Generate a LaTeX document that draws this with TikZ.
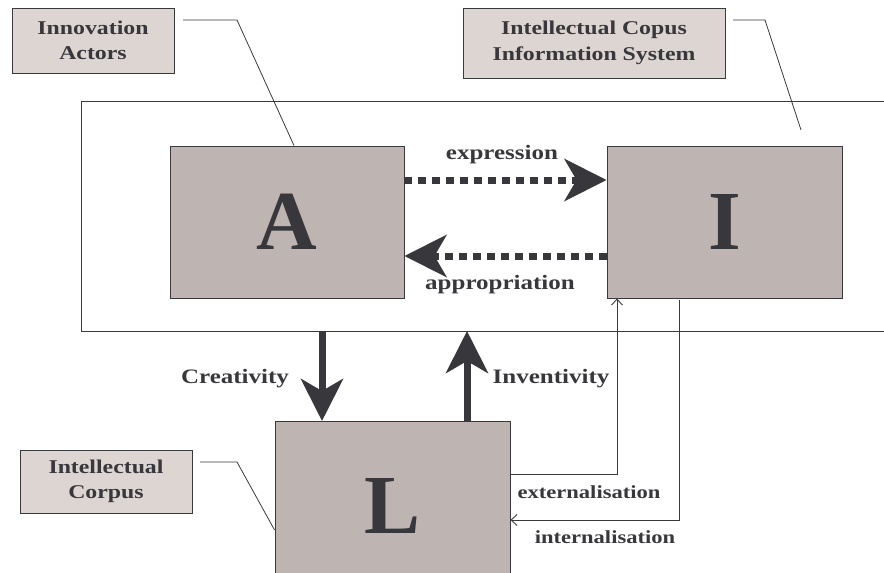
\documentclass[tikz,border=0pt]{standalone}
\usepackage{fontspec}
\setmainfont{Liberation Serif}
\newfontfamily\widefont[FakeStretch=1.22]{Liberation Serif}
\usetikzlibrary{arrows.meta}
\definecolor{lightbox}{HTML}{DCD5D2}
\definecolor{darkbox}{HTML}{BEB5B2}
\definecolor{ink}{HTML}{38373C}
\definecolor{edge}{HTML}{3A3A3E}
\tikzset{
  labelbox/.style={draw=edge, line width=0.9pt, fill=lightbox, inner sep=0pt, align=center, font=\widefont\fontsize{19.5}{25.5}\selectfont\bfseries, text=ink},
  bigbox/.style={draw=edge, line width=0.9pt, fill=darkbox, inner sep=0pt, font=\fontsize{84}{84}\selectfont\bfseries, text=ink},
  leader/.style={draw=edge, line width=0.8pt},
  thickarrow/.style={draw=ink, line width=7pt, -{Stealth[length=42pt, width=42pt, inset=12pt]}},
  dotarrow/.style={draw=ink, line width=7pt, dash pattern=on 8pt off 6pt, -{Stealth[length=42pt, width=42pt, inset=12pt]}},
  thinarrow/.style={draw=edge, line width=0.9pt, -{Straight Barb[length=6pt, width=11pt]}},
  lbl/.style={font=\widefont\fontsize{20.5}{22}\selectfont\bfseries, text=ink, inner sep=0pt},
  slbl/.style={font=\widefont\fontsize{18.5}{20}\selectfont\bfseries, text=ink, inner sep=0pt},
}
\begin{document}
\begin{tikzpicture}[x=1pt, y=-1pt]
\useasboundingbox (0,0) rectangle (884,573);
% outer frame (open on the right)
\draw[leader, line width=0.9pt] (884,101) -- (81,101) -- (81,331) -- (884,331);
% label boxes
\node[labelbox, minimum width=162pt, minimum height=65pt] (ia) at (93,40.5) {Innovation\\Actors};
\node[labelbox, minimum width=262pt, minimum height=70pt] (icis) at (594,43) {Intellectual Copus\\Information System};
\node[labelbox, minimum width=172pt, minimum height=63pt] (ic) at (106,481.5) {Intellectual\\Corpus};
% main boxes
\node[bigbox, minimum width=234pt, minimum height=152pt] (A) at (287,222) {A};
\node[bigbox, minimum width=235pt, minimum height=152pt] (I) at (724.5,222) {I};
\node[bigbox, minimum width=235pt, minimum height=170pt, anchor=north] (L) at (392.5,421) {\raisebox{-6pt}{L}};
% leader lines
\coordinate (ia1) at (183,20);
\coordinate (ia2) at (237,20);
\coordinate (icis1) at (733,20);
\coordinate (icis2) at (765,20);
\coordinate (icis3) at (801,130);
\coordinate (ic1) at (200,462);
\coordinate (ic2) at (237,462);
\draw[leader] (ia1) -- (ia2) -- (A.north -| 294,0);
\draw[leader] (icis1) -- (icis2) -- (icis3);
\draw[leader] (ic1) -- (ic2) -- (L.west |- 0,530);
% dotted arrows
\draw[dotarrow] (A.east |- 0,180) -- (I.west |- 0,180);
\draw[dotarrow] (I.west |- 0,256) -- (A.east |- 0,256);
\node[lbl] (expr) at (502,155) {expression};
\node[lbl] (appr) at (500,285) {appropriation};
% thick vertical arrows
\coordinate (cr1) at (322,331);
\coordinate (in1) at (467,331);
\draw[thickarrow] (cr1) -- (L.north -| cr1);
\draw[thickarrow] (L.north -| in1) -- (in1);
\node[lbl] (crea) at (235,379) {Creativity};
\node[lbl] (inve) at (551,379) {Inventivity};
% thin arrows
\coordinate (ex1) at (617,474);
\coordinate (it1) at (679,520);
\draw[thinarrow] (L.east |- ex1) -- (ex1) -- (I.south -| ex1);
\draw[thinarrow] (I.south -| it1) ++(0,2) -- (it1) -- (L.east |- it1);
\node[slbl] (ext) at (589,492) {externalisation};
\node[slbl] (int) at (605,537) {internalisation};
\end{tikzpicture}
\end{document}
